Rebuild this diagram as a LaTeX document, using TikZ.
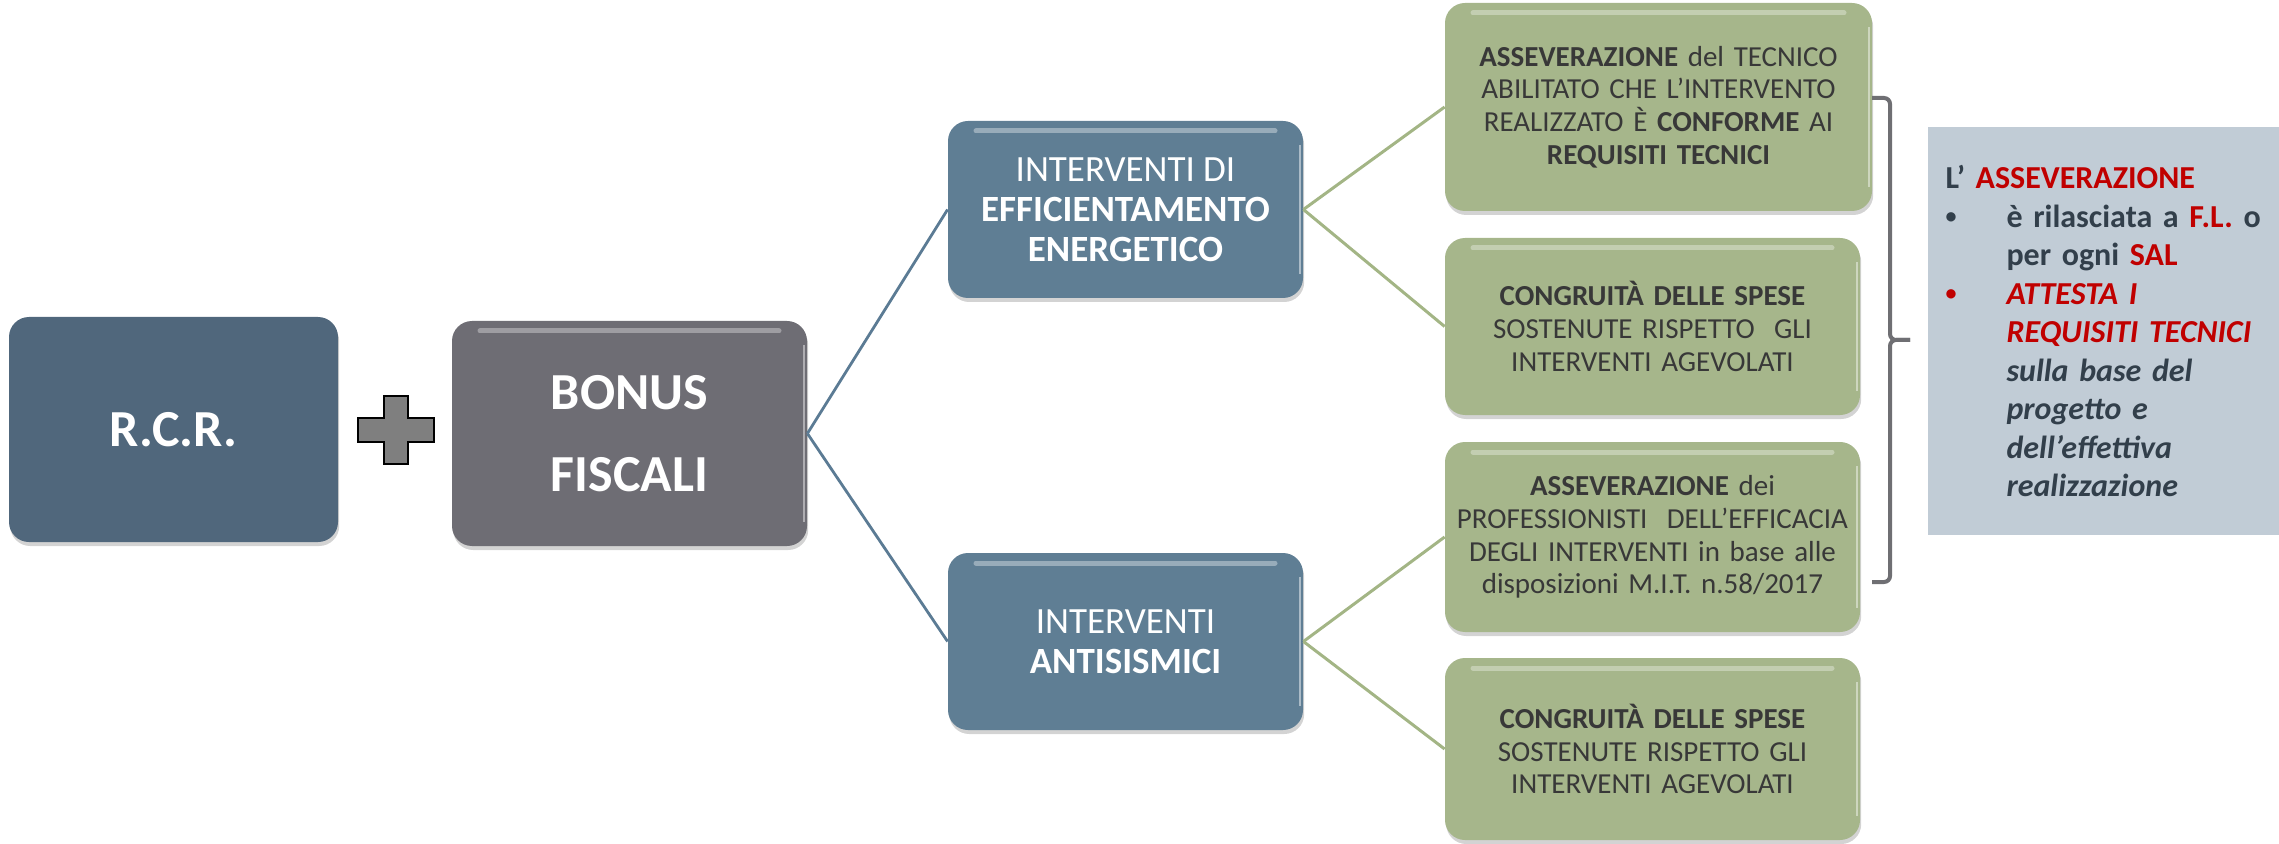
\documentclass[tikz,border=0pt]{standalone}
\usepackage{fontspec}
\setmainfont{Carlito}
\usetikzlibrary{shadows}
\definecolor{rcrc}{HTML}{50677C}
\definecolor{bonusc}{HTML}{6E6D74}
\definecolor{intc}{HTML}{5F7E94}
\definecolor{greenc}{HTML}{A6B68B}
\definecolor{infoc}{HTML}{C1CCD6}
\definecolor{accent}{HTML}{C00000}
\definecolor{bluelinec}{HTML}{5B7B94}
\definecolor{greenlinec}{HTML}{A3B585}
\definecolor{bracec}{HTML}{6F6F73}
\definecolor{greentext}{HTML}{383838}
\definecolor{infotext}{HTML}{323F4B}
\definecolor{plusc}{HTML}{7F7F7F}
\newcommand{\smallbul}{\raisebox{0.12em}{\fontsize{11}{11}\selectfont •}}
\begin{document}
\begin{tikzpicture}[x=0.5pt,y=-0.5pt,
  box/.style={rounded corners=10pt, inner sep=0pt, align=center,
    drop shadow={opacity=0.35, shadow xshift=0.6pt, shadow yshift=-2pt}},
  gloss/.style={path picture={
    \draw[#1, line width=2.5pt, line cap=round, opacity=0.6]
      ([xshift=14pt,yshift=-5pt]path picture bounding box.north west) --
      ([xshift=-14pt,yshift=-5pt]path picture bounding box.north east);
    \draw[#1, line width=1.2pt, opacity=0.8]
      ([xshift=-1.5pt,yshift=-12pt]path picture bounding box.north east) --
      ([xshift=-1.5pt,yshift=12pt]path picture bounding box.south east);}},
  mainbox/.style={box, text=white, font=\fontsize{26}{41}\selectfont\bfseries,
    minimum height=112.5pt},
  intbox/.style={box, fill=intc, gloss=intc!40!white, text=white,
    font=\fontsize{18.5}{20}\selectfont, minimum width=177.5pt, minimum height=88.5pt},
  greenbox/.style={box, fill=greenc, gloss=greenc!45!white, text=greentext,
    font=\fontsize{14.5}{16.3}\selectfont, text width=200pt},
  infobox/.style={fill=infoc, text=infotext, inner xsep=5.75pt, inner ysep=0pt,
    text width=164pt, align=left, minimum height=204pt,
    font=\fontsize{16}{19.25}\selectfont\bfseries},
  blueline/.style={draw=bluelinec, line width=1.4pt},
  greenline/.style={draw=greenlinec, line width=1.5pt},
  bracestyle/.style={draw=bracec, line width=2pt},
  plusshape/.style={draw=black, fill=plusc, line width=1.3pt, line join=miter}]

\useasboundingbox (0,0) rectangle (2279,844);

% main boxes
\node[mainbox, fill=rcrc, minimum width=164.5pt] (rcr) at (173.5,429.5) {R.C.R.};
\node[mainbox, fill=bonusc, gloss=bonusc!45!white, minimum width=177.5pt] (bonus) at (629.5,433.5) {BONUS\\FISCALI};

% plus sign
\draw[plusshape] (384,396) -- (408,396) -- (408,418) -- (434,418) -- (434,442) -- (408,442)
  -- (408,464) -- (384,464) -- (384,442) -- (358,442) -- (358,418) -- (384,418) -- cycle;

% intermediate boxes
\node[intbox] (eff) at (1125.5,209.5) {INTERVENTI DI\\\textbf{EFFICIENTAMENTO}\\\textbf{ENERGETICO}};
\node[intbox] (anti) at (1125.5,641.5) {INTERVENTI\\\textbf{ANTISISMICI}};

% green boxes
\node[greenbox, minimum width=213.5pt, minimum height=104pt] (g1) at (1658.5,107)
  {\textbf{ASSEVERAZIONE} del TECNICO\\ABILITATO CHE L’INTERVENTO\\REALIZZATO È \textbf{CONFORME} AI\\\textbf{REQUISITI TECNICI}};
\node[greenbox, minimum width=207.5pt, minimum height=88.5pt] (g2) at (1652.5,326.5)
  {\textbf{CONGRUITÀ DELLE SPESE}\\SOSTENUTE RISPETTO\ \ GLI\\INTERVENTI AGEVOLATI};
\node[greenbox, minimum width=207.5pt, minimum height=95pt] (g3) at (1652.5,537)
  {\textbf{ASSEVERAZIONE} dei\\PROFESSIONISTI\ \ DELL’EFFICACIA\\DEGLI INTERVENTI in base alle\\disposizioni M.I.T. n.58/2017};
\node[greenbox, minimum width=207.5pt, minimum height=91pt] (g4) at (1652.5,749)
  {\textbf{CONGRUITÀ DELLE SPESE}\\SOSTENUTE RISPETTO GLI\\INTERVENTI AGEVOLATI};

% info box
\node[infobox] (info) at (2103.5,331) {\hspace*{3pt}L’ \textcolor{accent}{ASSEVERAZIONE}\\
\makebox[33.5pt][l]{\hspace*{3pt}\smallbul}è rilasciata a \textcolor{accent}{F.L.} o\\
\hspace*{33.5pt}per ogni \textcolor{accent}{SAL}\\
\makebox[33.5pt][l]{\hspace*{3pt}\textcolor{accent}{\smallbul}}\textcolor{accent}{\itshape ATTESTA I}\\
\hspace*{33.5pt}\textcolor{accent}{\itshape REQUISITI TECNICI}\\
\hspace*{33.5pt}{\itshape sulla base del}\\
\hspace*{33.5pt}{\itshape progetto e}\\
\hspace*{33.5pt}{\itshape dell’effettiva}\\
\hspace*{33.5pt}{\itshape realizzazione}};

% connectors
\draw[blueline] (bonus.east) -- (eff.west);
\draw[blueline] (bonus.east) -- (anti.west);
\draw[greenline] (eff.east) -- (g1.west);
\draw[greenline] (eff.east) -- (g2.west);
\draw[greenline] (anti.east) -- (g3.west);
\draw[greenline] (anti.east) -- (g4.west);

% brace
\coordinate (bt) at (1872,98);
\coordinate (bb) at (1872,582);
\coordinate (btip) at (1910,340);
\draw[bracestyle] (bt) -- (1884,98) to[out=0,in=90] (1890,104) -- (1890,334)
  to[out=-90,in=180] (1896,340) -- (btip);
\draw[bracestyle] (btip) -- (1896,340) to[out=180,in=90] (1890,346) -- (1890,576)
  to[out=-90,in=0] (1884,582) -- (bb);
\end{tikzpicture}
\end{document}
